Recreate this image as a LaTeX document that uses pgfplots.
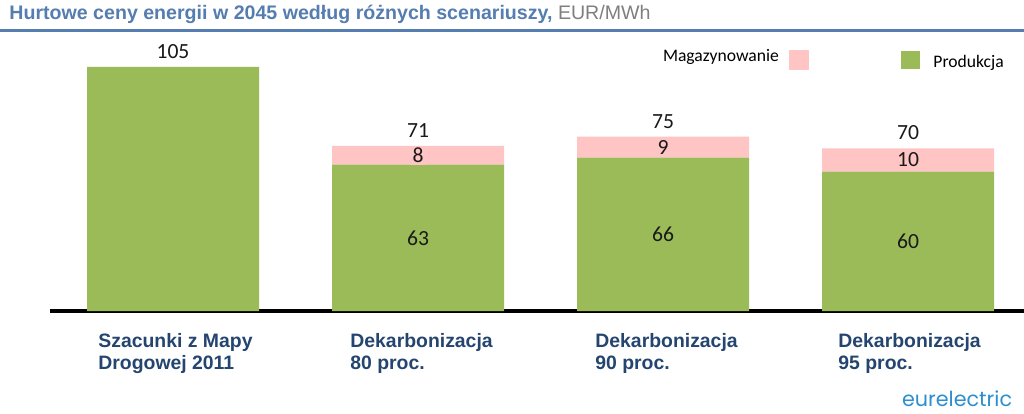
\documentclass[border=0pt]{standalone}
\usepackage{pgfplots}
\pgfplotsset{compat=1.18}
\usepackage{fontspec}
\setmainfont{Carlito}
\newfontfamily\arial{Liberation Sans}
\newfontfamily\logofont{Poppins}
\definecolor{prodgreen}{HTML}{9BBB59}
\definecolor{magpink}{HTML}{FFC4C4}
\definecolor{titleblue}{HTML}{557DB0}
\definecolor{catblue}{HTML}{24456F}
\definecolor{logoblue}{HTML}{2E8FCF}
\definecolor{unitgray}{HTML}{7F7F7F}
\tikzset{vlab/.style={font=\fontsize{10.8}{12}\selectfont, text=black!90}}
\begin{document}
\begin{tikzpicture}[x=1pt,y=1pt]
\useasboundingbox (0,0) rectangle (512,206.5);
\fill[white] (0,0) rectangle (512,206.5);
\node[anchor=base west, inner sep=0pt, font=\arial\fontsize{9.8}{11}\selectfont] at (4.5,196.75) {\textcolor{titleblue}{\bfseries Hurtowe ceny energii w 2045 według różnych scenariuszy,} \textcolor{unitgray}{EUR/MWh}};
\draw[titleblue, line width=1.5pt] (0,191.25) -- (512,191.25);
\begin{axis}[
  at={(25pt,51pt)}, anchor=south west,
  scale only axis, width=487pt, height=135.5pt,
  xmin=-0.50204, xmax=3.47347, ymin=0, ymax=116.6,
  ybar stacked, bar width=86pt,
  axis x line=bottom, axis y line=none,
  x axis line style={-, line width=2pt, black},
  xtick={-0.3061,0.7224,1.7224,2.7143},
  xticklabels={{Szacunki z Mapy\\Drogowej 2011},{Dekarbonizacja\\80 proc.},{Dekarbonizacja\\90 proc.},{Dekarbonizacja\\95 proc.}},
  major tick length=0pt,
  xticklabel style={anchor=north west, inner sep=0pt, align=left, font=\arial\bfseries\fontsize{9.7}{10.9}\selectfont, text=catblue, yshift=-11pt},
  clip=false,
]
\addplot[fill=prodgreen, draw=none] coordinates {(0,105) (1,63) (2,66) (3,60)};
\addplot[fill=magpink, draw=none] coordinates {(0,0) (1,8) (2,9) (3,10)};
\coordinate (t0) at (axis cs:0,105);
\coordinate (t1) at (axis cs:1,71);
\coordinate (t2) at (axis cs:2,75);
\coordinate (t3) at (axis cs:3,70);
\coordinate (g1) at (axis cs:1,31.5);
\coordinate (g2) at (axis cs:2,33);
\coordinate (g3) at (axis cs:3,30);
\coordinate (m1) at (axis cs:1,67);
\coordinate (m2) at (axis cs:2,70.5);
\coordinate (m3) at (axis cs:3,65);
\end{axis}
\node[vlab, anchor=base, yshift=4.2pt] at (t0) {105};
\node[vlab, anchor=base, yshift=4.2pt] at (t1) {71};
\node[vlab, anchor=base, yshift=4.2pt] at (t2) {75};
\node[vlab, anchor=base, yshift=4.2pt] at (t3) {70};
\node[vlab, anchor=center] at (g1) {63};
\node[vlab, anchor=center] at (g2) {66};
\node[vlab, anchor=center] at (g3) {60};
\node[vlab, anchor=center, fill=magpink, inner sep=1pt] at (m1) {8};
\node[vlab, anchor=center] at (m2) {9};
\node[vlab, anchor=center] at (m3) {10};
\node[anchor=base west, inner sep=0pt, font=\fontsize{8.8}{10}\selectfont] at (331.3,175.65) {Magazynowanie};
\fill[magpink] (394.5,171.5) rectangle (404.5,181.5);
\fill[prodgreen] (450.5,172) rectangle (460,181);
\node[anchor=base west, inner sep=0pt, font=\fontsize{8.8}{10}\selectfont] at (466.5,172.65) {Produkcja};
\node[anchor=base west, inner sep=0pt, text=logoblue] at (450.85,3.2) {\resizebox{55pt}{!}{\logofont eurelectric}};
\end{tikzpicture}
\end{document}
